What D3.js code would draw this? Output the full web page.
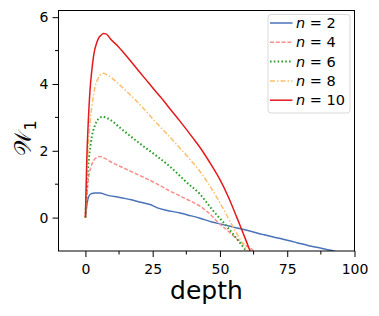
<!DOCTYPE html>
<html>
<head>
<meta charset="utf-8">
<script src="https://cdn.jsdelivr.net/npm/d3@7"></script>
<style>
  body { margin: 0; background: #fff; }
  svg { display: block; font-family: "DejaVu Sans", sans-serif; }
</style>
</head>
<body>
<div id="root"></div>
<script>
// values
const depth2 = [0, 0.5, 1.1, 2, 3.6, 5.5, 7, 9.2, 12, 16.6, 20, 24, 25, 26.5, 30, 35.2, 38, 42.6, 47, 50.1, 53.8, 56.3, 60, 66.2, 68.7, 72, 78.6, 83, 87.3, 90, 92.2, 93];
const w2 = [0, 0.35, 0.6, 0.71, 0.74, 0.74, 0.7, 0.65, 0.62, 0.54, 0.47, 0.39, 0.36, 0.3, 0.22, 0.14, 0.08, -0.02, -0.13, -0.19, -0.26, -0.31, -0.38, -0.51, -0.56, -0.62, -0.75, -0.84, -0.91, -0.96, -1.0, -1.02];

const depth4 = [0, 0.6, 1.2, 2, 3, 4, 5.5, 7, 9.2, 13, 17, 21, 25.9, 31.5, 37.7, 42.6, 47, 49, 53, 56.3, 60, 62.5, 63];
const w4 = [0, 0.7, 1.2, 1.5, 1.7, 1.79, 1.83, 1.78, 1.68, 1.53, 1.38, 1.23, 1.04, 0.79, 0.55, 0.34, 0.05, -0.12, -0.4, -0.64, -0.86, -1.0, -1.05];

const depth6 = [0, 0.6, 1.2, 1.8, 2.4, 3.5, 4.5, 5.5, 6.5, 8, 9.2, 13, 17, 21, 25.9, 31.5, 37.7, 42.6, 47, 52.5, 56.3, 59.4, 60];
const w6 = [0, 1.0, 1.7, 2.1, 2.43, 2.75, 2.92, 3.0, 3.02, 2.98, 2.93, 2.68, 2.42, 2.17, 1.88, 1.52, 1.05, 0.7, 0.25, -0.26, -0.64, -0.96, -1.03];

const depth8 = [0, 0.6, 1.2, 1.8, 2.4, 3.6, 4.8, 5.8, 6.7, 8, 9.2, 13, 17, 21, 25.9, 31.5, 37.7, 42.6, 47, 51, 55, 58, 60, 61];
const w8 = [0, 1.4, 2.3, 2.9, 3.32, 3.92, 4.18, 4.29, 4.32, 4.28, 4.22, 3.95, 3.65, 3.32, 2.88, 2.4, 1.85, 1.38, 0.85, 0.3, -0.3, -0.72, -1.0, -1.14];

const depth10 = [0, 0.5, 1.1, 1.7, 2.4, 3.2, 4.0, 4.8, 5.8, 6.7, 7.6, 8.5, 9.2, 12, 15, 19, 22.8, 25.9, 28, 32, 35.2, 40, 42.6, 46, 50.1, 53, 56.3, 58, 60, 61.2, 62];
const w10 = [0, 1.7, 2.93, 3.8, 4.42, 4.92, 5.18, 5.36, 5.46, 5.51, 5.5, 5.44, 5.36, 5.14, 4.86, 4.47, 4.1, 3.8, 3.6, 3.2, 2.88, 2.38, 2.1, 1.68, 1.12, 0.64, 0.0, -0.34, -0.75, -1.0, -1.15];

const nValues = [2, 4, 6, 8, 10];
const xTicks = [0, 25, 50, 75, 100];
const xMinor = [12.5, 37.5, 62.5, 87.5];
const yTicks = [0, 2, 4, 6];
const yMinor = [1, 3, 5];

const series = [
  { n: 2, depth: depth2, w: w2, color: "#4a72b8", dash: null },
  { n: 4, depth: depth4, w: w4, color: "#f98e8a", dash: "4,1.8" },
  { n: 6, depth: depth6, w: w6, color: "#2ca02c", dash: "1.6,2.2" },
  { n: 8, depth: depth8, w: w8, color: "#fdbf6f", dash: "5,2,1.5,2" },
  { n: 10, depth: depth10, w: w10, color: "#e31a1c", dash: null },
];

const width = 379;
const height = 316;
const margin = { top: 10.5, left: 58.5, bottom: 65, right: 24.5 };
const innerWidth = width - margin.left - margin.right;
const innerHeight = height - margin.top - margin.bottom;

const svg = d3.select("#root")
  .append("svg")
  .attr("width", width)
  .attr("height", height)
  .attr("viewBox", `0 0 ${width} ${height}`);

const innerChart = svg.append("g")
  .attr("transform", `translate(${margin.left}, ${margin.top})`);

const xScale = d3.scaleLinear().domain([-10, 100]).range([0, innerWidth]);
const yScale = d3.scaleLinear().domain([-1, 6.2]).range([innerHeight, 0]);

innerChart.append("clipPath").attr("id", "clip")
  .append("rect").attr("width", innerWidth).attr("height", innerHeight);

// lines
const line = d3.line()
  .x((d) => xScale(d[0]))
  .y((d) => yScale(d[1]))
  .curve(d3.curveMonotoneX);

innerChart.append("g")
  .attr("clip-path", "url(#clip)")
  .selectAll("path")
  .data(series)
  .join("path")
  .attr("d", (s) => line(d3.zip(s.depth, s.w)))
  .attr("fill", "none")
  .attr("stroke", (s) => s.color)
  .attr("stroke-width", (s) => (s.n === 6 ? 2 : 1.5))
  .attr("stroke-dasharray", (s) => s.dash)
  .attr("stroke-linejoin", "round");

// axes
const bottomAxis = d3.axisBottom(xScale).tickValues(xTicks).tickSize(6).tickPadding(7).tickSizeOuter(0);
const gx = innerChart.append("g")
  .attr("transform", `translate(0, ${innerHeight})`)
  .call(bottomAxis);
gx.append("g").selectAll("line").data(xMinor).join("line")
  .attr("x1", (d) => xScale(d)).attr("x2", (d) => xScale(d))
  .attr("y1", 0).attr("y2", 3.5).attr("stroke", "#000");

const leftAxis = d3.axisLeft(yScale).tickValues(yTicks).tickSize(6).tickPadding(4).tickSizeOuter(0);
const gy = innerChart.append("g").call(leftAxis);
gy.append("g").selectAll("line").data(yMinor).join("line")
  .attr("y1", (d) => yScale(d)).attr("y2", (d) => yScale(d))
  .attr("x1", 0).attr("x2", -3.5).attr("stroke", "#000");

svg.selectAll(".tick text")
  .attr("font-size", 14)
  .attr("font-family", "DejaVu Sans")
  .attr("fill", "#000");
svg.selectAll(".domain").remove();

// frame
innerChart.append("rect")
  .attr("width", innerWidth)
  .attr("height", innerHeight)
  .attr("fill", "none")
  .attr("stroke", "#000")
  .attr("stroke-width", 1);

// axis labels
svg.append("text")
  .attr("x", margin.left + innerWidth / 2)
  .attr("y", 299)
  .attr("text-anchor", "middle")
  .attr("font-size", 25)
  .text("depth");

const yLabel = svg.append("text")
  .attr("transform", "translate(31, 138) rotate(-90)")
  .attr("text-anchor", "middle")
  .attr("font-size", 24);
yLabel.append("tspan").text("𝒲");
yLabel.append("tspan").attr("font-size", 16).attr("dy", 5).text("1");

// legend
const legend = svg.append("g").attr("transform", "translate(268, 14.5)");
legend.append("rect")
  .attr("width", 82)
  .attr("height", 98.5)
  .attr("rx", 3)
  .attr("fill", "#fff")
  .attr("fill-opacity", 0.8)
  .attr("stroke", "#d9d9d9")
  .attr("stroke-width", 1);

const item = legend.selectAll("g.item")
  .data(series)
  .join("g")
  .attr("class", "item")
  .attr("transform", (s, i) => `translate(0, ${8.5 + i * 19.3})`);

item.append("line")
  .attr("x1", 2).attr("x2", 24.5)
  .attr("stroke", (s) => s.color)
  .attr("stroke-width", (s) => (s.n === 6 ? 2 : 1.5))
  .attr("stroke-dasharray", (s) => s.dash);

const label = item.append("text")
  .attr("x", 28)
  .attr("y", 5)
  .attr("font-size", 14.5)
  .attr("fill", "#000");
label.append("tspan").attr("font-style", "italic").text("n");
label.append("tspan").text((s, i) => ` = ${nValues[i]}`);
</script>
</body>
</html>
